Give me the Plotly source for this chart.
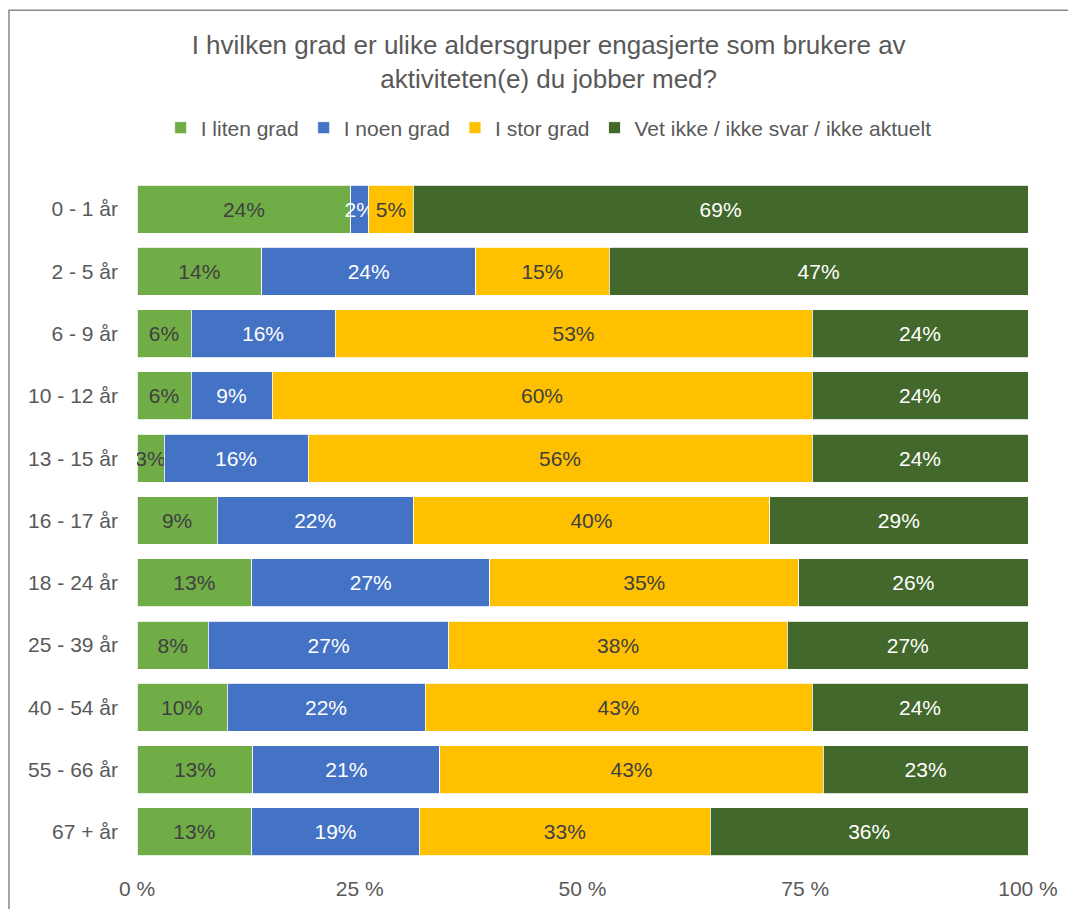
import plotly.graph_objects as go

categories = ["0 - 1 år", "2 - 5 år", "6 - 9 år", "10 - 12 år", "13 - 15 år", "16 - 17 år",
              "18 - 24 år", "25 - 39 år", "40 - 54 år", "55 - 66 år", "67 + år"]

series_names = ["I liten grad", "I noen grad", "I stor grad", "Vet ikke / ikke svar / ikke aktuelt"]

liten = [24, 14, 6, 6, 3, 9, 13, 8, 10, 13, 13]
noen = [2, 24, 16, 9, 16, 22, 27, 27, 22, 21, 19]
stor = [5, 15, 53, 60, 56, 40, 35, 38, 43, 43, 33]
vet_ikke = [69, 47, 24, 24, 24, 29, 26, 27, 24, 23, 36]

colors = ["#70AD47", "#4472C4", "#FFC000", "#43682B"]
text_colors = ["#404040", "#FFFFFF", "#404040", "#FFFFFF"]

x_tickvals = [0, 25, 50, 75, 100]
x_ticktext = ["0 %", "25 %", "50 %", "75 %", "100 %"]

FONT = "Liberation Sans, Arial, sans-serif"

fig = go.Figure()
for name, vals, col, tcol in zip(series_names, [liten, noen, stor, vet_ikke], colors, text_colors):
    fig.add_trace(go.Bar(
        y=categories, x=vals, name=name, orientation="h",
        marker=dict(color=col, line=dict(color="#FFFFFF", width=0.8)),
        text=[f"{v}%" for v in vals], textposition="inside", insidetextanchor="middle",
        textangle=0, textfont=dict(color=tcol, size=21, family=FONT),
        hoverinfo="skip",
    ))

fig.update_layout(
    barmode="stack", barnorm="percent", bargap=0.23,
    width=1076, height=909,
    margin=dict(l=129, r=56, t=170, b=54),
    paper_bgcolor="white", plot_bgcolor="white",
    font=dict(family=FONT, color="#595959", size=21),
    uniformtext=dict(minsize=21, mode="show"),
    title=dict(text="I hvilken grad er ulike aldersgruper engasjerte som brukere av<br>aktiviteten(e) du jobber med?",
               x=0.462, xref="paper", xanchor="center", y=0.949, yanchor="middle",
               font=dict(size=26, color="#595959", family=FONT)),
    legend=dict(orientation="h", x=0.462, xanchor="center", y=1.073, yanchor="middle",
                font=dict(size=21, color="#595959", family=FONT), traceorder="normal",
                itemwidth=30, bgcolor="rgba(0,0,0,0)"),
    xaxis=dict(range=[0, 100], tickvals=x_tickvals, ticktext=x_ticktext, showgrid=False,
               zeroline=False, showline=False, ticks="", tickfont=dict(size=21, color="#595959"),
               ticklabelstandoff=11),
    yaxis=dict(categoryorder="array", categoryarray=categories, autorange="reversed",
               showgrid=False, zeroline=False, showline=False, ticks="",
               tickfont=dict(size=21, color="#595959"), ticklabelstandoff=18),
    shapes=[dict(type="rect", xref="paper", yref="paper", x0=-0.1437, x1=1.07, y0=-0.2, y1=1.245,
                 line=dict(color="#898989", width=1.5), fillcolor="rgba(0,0,0,0)", layer="below")],
)

fig.write_html("out.html")
